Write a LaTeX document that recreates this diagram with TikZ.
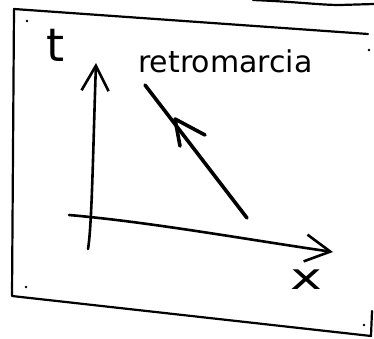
\documentclass[tikz,border=0pt]{standalone}
\usepackage{fontspec}
\setmainfont{DejaVu Sans}
\usetikzlibrary{arrows.meta}
\begin{document}
\begin{tikzpicture}[x=1pt,y=-1pt,
  frameline/.style={line width=2.2pt,line cap=round,line join=round},
  axisline/.style={line width=2.6pt,line cap=round},
  axistip/.style={-{Straight Barb[length=25pt,width=27pt,line width=2.6pt]}},
  motion/.style={line width=3.6pt,line cap=round,line join=round},
  speck/.style={fill=black,circle,inner sep=0.9pt}
]
\useasboundingbox (0,0) rectangle (374,339);
% frame
\coordinate (tl) at (14,9);
\coordinate (tr) at (368,34);
\coordinate (bl) at (12,296);
\coordinate (br) at (371,336);
\draw[frameline] (tr) -- (tl) -- (bl) -- (br) -- (372,311);
\draw[frameline] (253,0) .. controls (300,2) and (320,5) .. (340,5) -- (374,4);
% corner specks
\node[speck] (s1) at (27,21) {};
\node[speck] (s2) at (26,287) {};
\node[speck] (s3) at (369,50) {};
\node[speck] (s4) at (364,325) {};
% axes
\coordinate (tbot) at (88,249);
\coordinate (ttop) at (96,63);
\coordinate (xleft) at (69,215);
\coordinate (xright) at (333,252);
\draw[axisline,axistip] (tbot) .. controls (92,225) and (93,150) .. (ttop);
\draw[axisline,axistip] (xleft) .. controls (150,222) and (250,240) .. (xright);
% labels
\node[font=\fontsize{46}{46}\selectfont,inner sep=0pt] (tlab) at (56,45) {t};
\node[font=\fontsize{30}{33}\selectfont,inner sep=0pt,anchor=base west] (rlab) at (138,73) {retromarcia};
\node[font=\fontsize{36}{36}\selectfont,inner sep=0pt,xscale=1.5] (xlab) at (306,280) {x};
% reverse motion line
\coordinate (mstart) at (247,218);
\coordinate (mend) at (145,85);
\coordinate (hl) at (180,146);
\coordinate (htip) at (175,119);
\coordinate (hr) at (205,135);
\draw[motion] (mstart) -- (mend);
\draw[motion] (hl) -- (htip) -- (hr);
\end{tikzpicture}
\end{document}
